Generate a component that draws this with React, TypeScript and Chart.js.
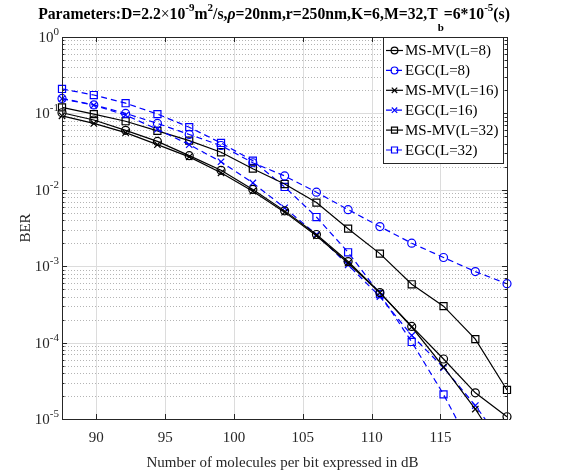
import React, { useEffect, useRef } from 'react';
import { Chart, registerables } from 'chart.js';

Chart.register(...registerables);

// ---------- data ----------
const xValues = [87.51, 89.82, 92.13, 94.44, 96.75, 99.06, 101.37, 103.68, 105.99, 108.29, 110.6, 112.91, 115.22, 117.53, 119.83];
const msmvL8 = [0.102, 0.082, 0.060, 0.043, 0.028, 0.018, 0.0101, 0.0053, 0.0026, 0.00115, 0.00045, 0.000163, 6.1e-5, 2.2e-5, 1.07e-5];
const egcL8 = [0.157, 0.129, 0.100, 0.074, 0.053, 0.038, 0.0226, 0.0152, 0.0093, 0.0055, 0.0033, 0.0020, 0.0013, 0.00085, 0.00059];
const msmvL16 = [0.093, 0.074, 0.056, 0.039, 0.027, 0.0167, 0.0096, 0.0051, 0.0025, 0.0011, 0.00045, 0.00016, 4.8e-5, 1.35e-5, 3.1e-6];
const egcL16 = [0.155, 0.128, 0.095, 0.062, 0.039, 0.0233, 0.0123, 0.0058, 0.0026, 0.00104, 0.0004, 0.000124, 4.7e-5, 1.5e-5, 4e-6];
const msmvL32 = [0.12, 0.098, 0.079, 0.059, 0.044, 0.031, 0.0189, 0.0119, 0.0068, 0.0031, 0.00146, 0.00058, 0.0003, 0.000111, 2.4e-5];
const egcL32 = [0.209, 0.174, 0.136, 0.098, 0.066, 0.041, 0.024, 0.0109, 0.0044, 0.00152, 0.00043, 0.000102, 2.1e-5, 3.4e-6, 5e-7];

const seriesLabels = ['MS-MV(L=8)', 'EGC(L=8)', 'MS-MV(L=16)', 'EGC(L=16)', 'MS-MV(L=32)', 'EGC(L=32)'];
const xTicks = [90, 95, 100, 105, 110, 115];
const yTickExponents = [0, -1, -2, -3, -4, -5];
const xTitle = 'Number of molecules per bit expressed in dB';
const yTitle = 'BER';

const FONT = '"Liberation Serif", "Times New Roman", Times, serif';
const AX = '#262626';
const BLUE = '#0000ff';

type Seg = { t: string; size: number; bold?: boolean; italic?: boolean; dy?: number };

function segFont(s: Seg) {
  return `${s.italic ? 'italic ' : ''}${s.bold ? 'bold ' : ''}${s.size}px ${FONT}`;
}
function richWidth(ctx: CanvasRenderingContext2D, segs: Seg[]) {
  let w = 0;
  for (const s of segs) { ctx.font = segFont(s); w += ctx.measureText(s.t).width; }
  return w;
}
function drawRich(ctx: CanvasRenderingContext2D, segs: Seg[], x: number, y: number, align: 'left' | 'right' | 'center') {
  const total = richWidth(ctx, segs);
  let cx = align === 'right' ? x - total : align === 'center' ? x - total / 2 : x;
  ctx.textAlign = 'left';
  ctx.textBaseline = 'alphabetic';
  for (const s of segs) {
    ctx.font = segFont(s);
    ctx.fillText(s.t, cx, y + (s.dy || 0));
    cx += ctx.measureText(s.t).width;
  }
}

function drawMarker(ctx: CanvasRenderingContext2D, style: string, x: number, y: number, r: number) {
  ctx.beginPath();
  if (style === 'circle') {
    ctx.arc(x, y, r, 0, Math.PI * 2);
  } else if (style === 'rect') {
    const h = r * Math.SQRT1_2;
    ctx.rect(x - h, y - h, 2 * h, 2 * h);
  } else {
    const h = r * Math.SQRT1_2;
    ctx.moveTo(x - h, y - h); ctx.lineTo(x + h, y + h);
    ctx.moveTo(x - h, y + h); ctx.lineTo(x + h, y - h);
  }
  ctx.stroke();
}

const styles = [
  { color: '#000000', dash: [] as number[], point: 'circle', r: 4 },
  { color: BLUE, dash: [6, 4], point: 'circle', r: 4 },
  { color: '#000000', dash: [] as number[], point: 'crossRot', r: 4.5 },
  { color: BLUE, dash: [6, 4], point: 'crossRot', r: 4.5 },
  { color: '#000000', dash: [] as number[], point: 'rect', r: 5 },
  { color: BLUE, dash: [6, 4], point: 'rect', r: 5 },
];

const matlabPlugin = {
  id: 'matlabLook',
  beforeDatasetsDraw(chart: any) {
    const { ctx, chartArea: a, scales } = chart;
    const x = scales.x, y = scales.y;
    ctx.save();
    ctx.lineWidth = 1;
    ctx.strokeStyle = '#b4b4b4';
    ctx.setLineDash([1, 2]);
    for (let e = -5; e < 0; e++) {
      for (let m = 2; m <= 9; m++) {
        const py = Math.round(y.getPixelForValue(m * Math.pow(10, e))) + 0.5;
        ctx.beginPath(); ctx.moveTo(a.left, py); ctx.lineTo(a.right, py); ctx.stroke();
      }
    }
    ctx.setLineDash([]);
    ctx.strokeStyle = '#dcdcdc';
    for (const ex of yTickExponents) {
      const py = Math.round(y.getPixelForValue(Math.pow(10, ex))) + 0.5;
      ctx.beginPath(); ctx.moveTo(a.left, py); ctx.lineTo(a.right, py); ctx.stroke();
    }
    for (const v of xTicks) {
      const px = Math.round(x.getPixelForValue(v)) + 0.5;
      ctx.beginPath(); ctx.moveTo(px, a.top); ctx.lineTo(px, a.bottom); ctx.stroke();
    }
    ctx.restore();
  },
  afterDraw(chart: any) {
    const { ctx, chartArea: a, scales } = chart;
    const x = scales.x, y = scales.y;
    ctx.save();
    ctx.strokeStyle = AX;
    ctx.lineWidth = 1;
    ctx.setLineDash([]);
    ctx.strokeRect(Math.round(a.left) + 0.5, Math.round(a.top) + 0.5, Math.round(a.right - a.left), Math.round(a.bottom - a.top));
    for (const v of xTicks) {
      const px = Math.round(x.getPixelForValue(v)) + 0.5;
      ctx.beginPath();
      ctx.moveTo(px, a.bottom); ctx.lineTo(px, a.bottom - 5);
      ctx.moveTo(px, a.top); ctx.lineTo(px, a.top + 5);
      ctx.stroke();
    }
    for (let e = -5; e <= 0; e++) {
      for (let m = 1; m <= 9; m++) {
        if (e === 0 && m > 1) break;
        const py = Math.round(y.getPixelForValue(m * Math.pow(10, e))) + 0.5;
        const len = m === 1 ? 5 : 2.5;
        ctx.beginPath();
        ctx.moveTo(a.left, py); ctx.lineTo(a.left + len, py);
        ctx.moveTo(a.right, py); ctx.lineTo(a.right - len, py);
        ctx.stroke();
      }
    }
    // tick labels
    ctx.fillStyle = AX;
    ctx.font = `15px ${FONT}`;
    ctx.textAlign = 'center';
    ctx.textBaseline = 'alphabetic';
    for (const v of xTicks) {
      ctx.fillText(String(v), x.getPixelForValue(v), 442);
    }
    for (const ex of yTickExponents) {
      const py = y.getPixelForValue(Math.pow(10, ex));
      drawRich(ctx, [
        { t: '10', size: 15 },
        { t: String(ex), size: 11, dy: -7 },
      ], a.left - 3, py + 5, 'right');
    }
    // axis titles
    ctx.font = `15px ${FONT}`;
    ctx.textAlign = 'center';
    ctx.fillText(xTitle, (a.left + a.right) / 2 - 2, 467);
    ctx.save();
    ctx.translate(30, (a.top + a.bottom) / 2);
    ctx.rotate(-Math.PI / 2);
    ctx.font = `15px ${FONT}`;
    ctx.fillText(yTitle, 0, 0);
    ctx.restore();
    // title
    ctx.fillStyle = '#000';
    const B = 15.7, S = 11;
    drawRich(ctx, [
      { t: 'Parameters:D=2.2', size: B, bold: true },
      { t: '×', size: B },
      { t: '10', size: B, bold: true },
      { t: '-9', size: S, bold: true, dy: -8 },
      { t: 'm', size: B, bold: true },
      { t: '2', size: S, bold: true, dy: -8 },
      { t: '/s,', size: B, bold: true },
      { t: 'ρ', size: B, bold: true, italic: true },
      { t: '=20nm,r=250nm,K=6,M=32,T', size: B, bold: true },
      { t: 'b', size: S, bold: true, dy: 12 },
      { t: '=6*10', size: B, bold: true },
      { t: '-5', size: S, bold: true, dy: -8 },
      { t: '(s)', size: B, bold: true },
    ], 274, 19, 'center');
    // legend
    const lx = 383, ly = 37, lw = 120, lh = 126;
    ctx.fillStyle = '#fff';
    ctx.fillRect(lx, ly, lw, lh);
    ctx.strokeStyle = AX;
    ctx.lineWidth = 1;
    ctx.strokeRect(lx + 0.5, ly + 0.5, lw, lh);
    ctx.font = `15px ${FONT}`;
    ctx.textAlign = 'left';
    ctx.textBaseline = 'middle';
    seriesLabels.forEach((lab, i) => {
      const st = styles[i];
      const cy = ly + 13.5 + i * 19.9;
      ctx.strokeStyle = st.color;
      ctx.lineWidth = 1.2;
      ctx.setLineDash(st.dash);
      ctx.beginPath(); ctx.moveTo(lx + 3, cy); ctx.lineTo(lx + 20, cy); ctx.stroke();
      ctx.setLineDash([]);
      drawMarker(ctx, st.point, lx + 11.5, cy, st.r * 0.85);
      ctx.fillStyle = '#000';
      ctx.fillText(lab, lx + 22, cy + 1);
    });
    ctx.restore();
  },
};

export default function App() {
  const ref = useRef<HTMLCanvasElement>(null);
  useEffect(() => {
    const canvas = ref.current!;
    const all = [msmvL8, egcL8, msmvL16, egcL16, msmvL32, egcL32];
    const chart = new Chart(canvas, {
      type: 'line',
      data: {
        datasets: all.map((arr, i) => ({
          label: seriesLabels[i],
          data: xValues.map((xv, j) => ({ x: xv, y: arr[j] })),
          borderColor: styles[i].color,
          borderDash: styles[i].dash,
          borderWidth: 1.2,
          pointStyle: styles[i].point as any,
          pointRadius: styles[i].r,
          pointBorderColor: styles[i].color,
          pointBackgroundColor: 'rgba(0,0,0,0)',
          pointBorderWidth: 1.2,
          fill: false,
          tension: 0,
          clip: { left: 8, top: 8, right: 8, bottom: 1 } as any,
        })),
      },
      options: {
        responsive: false,
        animation: false,
        devicePixelRatio: 1,
        layout: { padding: { left: 0, right: 74, top: 37, bottom: 0 } },
        plugins: { legend: { display: false }, title: { display: false }, tooltip: { enabled: false } },
        scales: {
          x: {
            type: 'linear',
            min: 87.51,
            max: 119.83,
            grid: { display: false },
            border: { display: false },
            ticks: { display: false },
            afterFit: (s: any) => { s.height = 54; },
          },
          y: {
            type: 'logarithmic',
            min: 1e-5,
            max: 1,
            grid: { display: false },
            border: { display: false },
            ticks: { display: false },
            afterFit: (s: any) => { s.width = 62; },
          },
        },
      },
      plugins: [matlabPlugin],
    });
    return () => chart.destroy();
  }, []);
  return (
    <div style={{ position: 'fixed', left: 0, top: 0, width: 581, height: 473, background: '#fff' }}>
      <canvas ref={ref} width={581} height={473} style={{ display: 'block', width: 581, height: 473 }} />
    </div>
  );
}
